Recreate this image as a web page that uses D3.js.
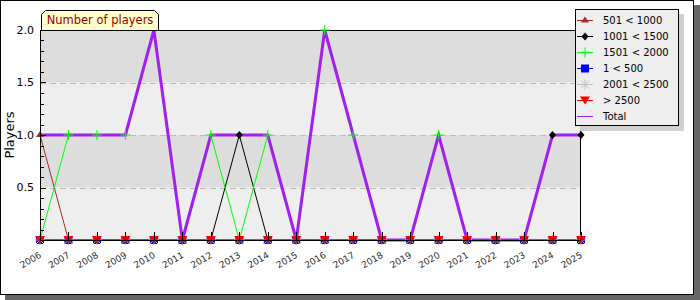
<!DOCTYPE html>
<html>
<head>
<meta charset="utf-8">
<script src="https://cdn.jsdelivr.net/npm/d3@7"></script>
<style>
    body { margin: 0; background: #ffffff; }
    svg { display: block; font-family: "DejaVu Sans", sans-serif; }
</style>
</head>
<body>
<svg id="chart" width="700" height="300"></svg>
<script>
// chart data
const years = ['2006', '2007', '2008', '2009', '2010', '2011', '2012', '2013', '2014', '2015',
               '2016', '2017', '2018', '2019', '2020', '2021', '2022', '2023', '2024', '2025'];
const s_501_1000 = [1, 0, 0, 0, 0, 0, 0, 0, 0, 0, 0, 0, 0, 0, 0, 0, 0, 0, 0, 0];
const s_1001_1500 = [0, 0, 0, 0, 0, 0, 0, 1, 0, 0, 0, 0, 0, 0, 0, 0, 0, 0, 1, 1];
const s_1501_2000 = [0, 1, 1, 1, null, 0, 1, 0, 1, 0, 2, 1, 0, 0, 1, 0, 0, 0, 0, 0];
const s_1_500 = [0, 0, 0, 0, 0, 0, 0, 0, 0, 0, 0, 0, 0, 0, 0, 0, 0, 0, 0, 0];
const s_2001_2500 = [0, 0, 0, 0, 0, 0, 0, 0, 0, 0, 0, 0, 0, 0, 0, 0, 0, 0, 0, 0];
const s_2500_up = [0, 0, 0, 0, 0, 0, 0, 0, 0, 0, 0, 0, 0, 0, 0, 0, 0, 0, 0, 0];
const total = [1, 1, 1, 1, 2, 0, 1, 1, 1, 0, 2, 1, 0, 0, 1, 0, 0, 0, 1, 1];
const y_ticks = [0.5, 1.0, 1.5, 2.0];
const legend_labels = ['501 < 1000', '1001 < 1500', '1501 < 2000', '1 < 500', '2001 < 2500', '> 2500', 'Total'];

// series styling, same order as the legend
const series = [
    {values: s_501_1000, color: '#a52a2a', symbol: 'triangle'},
    {values: s_1001_1500, color: '#000000', symbol: 'diamond'},
    {values: s_1501_2000, color: '#00ff00', symbol: 'plus'},
    {values: s_1_500, color: '#0000ff', symbol: 'square'},
    {values: s_2001_2500, color: '#c0c0c0', symbol: 'star'},
    {values: s_2500_up, color: '#ff0000', symbol: 'down'},
];

const svg = d3.select('#chart');
const plot_left = 40, plot_right = 580, plot_top = 30, plot_bottom = 240;

// frame with shadow
svg.append('rect').attr('x', 5).attr('y', 5).attr('width', 695).attr('height', 295).attr('fill', '#666666');
svg.append('rect').attr('x', 0.5).attr('y', 0.5).attr('width', 693).attr('height', 294)
    .attr('fill', '#ffffff').attr('stroke', '#000000');

const x = d3.scalePoint().domain(years).range([plot_left, 581]);
const y = d3.scaleLinear().domain([0, 2]).range([plot_bottom, plot_top]);

// background bands
const bands = [[0, 0.5, '#eeeeee'], [0.5, 1.0, '#dddddd'], [1.0, 1.5, '#eeeeee'], [1.5, 2.0, '#dddddd']];
svg.selectAll('.band').data(bands).enter().append('rect')
    .attr('x', plot_left).attr('width', plot_right - plot_left)
    .attr('y', (b) => y(b[1])).attr('height', (b) => y(b[0]) - y(b[1]))
    .attr('fill', (b) => b[2]);

// dashed grid lines
svg.selectAll('.grid').data([0.5, 1.0, 1.5]).enter().append('line')
    .attr('x1', plot_left).attr('x2', plot_right)
    .attr('y1', (v) => Math.round(y(v)) + 0.5).attr('y2', (v) => Math.round(y(v)) + 0.5)
    .attr('stroke', '#bbbbbb').attr('stroke-dasharray', '6,4');

// plot border top / right
svg.append('path')
    .attr('d', `M${plot_left},${plot_top + 0.5}H${plot_right + 0.5}V${plot_bottom}`)
    .attr('fill', 'none').attr('stroke', '#000000');

// lines
const line = d3.line()
    .defined((d) => d !== null)
    .x((d, i) => x(years[i]))
    .y((d) => y(d));

for (const s of series) {
    svg.append('path').datum(s.values)
        .attr('d', line)
        .attr('fill', 'none').attr('stroke', s.color).attr('stroke-width', 1);
}

svg.append('path').datum(total)
    .attr('d', line)
    .attr('fill', 'none').attr('stroke', '#a020f0').attr('stroke-width', 3);

// marker helper
function drawMarker(g, kind, color, cx, cy) {
    if (kind === 'triangle') {
        g.append('path').attr('d', `M${cx - 4},${cy + 2}L${cx},${cy - 4}L${cx + 4},${cy + 2}Z`).attr('fill', color);
    } else if (kind === 'down') {
        g.append('path').attr('d', `M${cx - 5},${cy - 4}L${cx + 5},${cy - 4}L${cx},${cy + 4}Z`).attr('fill', color);
    } else if (kind === 'diamond') {
        g.append('path').attr('d', `M${cx},${cy - 4}L${cx + 3.5},${cy}L${cx},${cy + 4}L${cx - 3.5},${cy}Z`).attr('fill', color);
    } else if (kind === 'square') {
        g.append('rect').attr('x', cx - 4).attr('y', cy - 4).attr('width', 8).attr('height', 8).attr('fill', color);
    } else if (kind === 'plus') {
        g.append('path').attr('d', `M${cx - 5},${cy}H${cx + 5}M${cx},${cy - 5}V${cy + 5}`).attr('stroke', color);
    } else if (kind === 'star') {
        g.append('path').attr('d', `M${cx - 5},${cy}H${cx + 5}M${cx},${cy - 5}V${cy + 5}M${cx - 4},${cy - 4}L${cx + 4},${cy + 4}M${cx - 4},${cy + 4}L${cx + 4},${cy - 4}`)
            .attr('stroke', color);
    }
}

// markers
const markers = svg.append('g');
for (const s of series) {
    s.values.forEach((v, i) => {
        if (v !== null) drawMarker(markers, s.symbol, s.color, x(years[i]), y(v));
    });
}

// y axis with inward ticks
const yAxis = svg.append('g');
yAxis.append('line').attr('x1', plot_left + 0.5).attr('x2', plot_left + 0.5).attr('y1', plot_top).attr('y2', plot_bottom)
    .attr('stroke', '#000000');
for (let v = 0.1; v < 2.0001; v += 0.1) {
    const yy = Math.round(y(v)) + 0.5;
    const major = Math.abs(v * 2 - Math.round(v * 2)) < 1e-6;
    yAxis.append('line').attr('x1', plot_left).attr('x2', plot_left + (major ? 6 : 4))
        .attr('y1', yy).attr('y2', yy).attr('stroke', '#000000');
}
yAxis.selectAll('text').data(y_ticks).enter().append('text')
    .attr('x', 34).attr('y', (v) => y(v)).attr('dy', '0.35em')
    .attr('text-anchor', 'end').attr('font-size', 11).attr('fill', '#000000')
    .text((v) => v.toFixed(1));

// x axis with inward ticks
const xAxis = svg.append('g');
xAxis.append('line').attr('x1', plot_left).attr('x2', 581).attr('y1', plot_bottom + 0.5).attr('y2', plot_bottom + 0.5)
    .attr('stroke', '#000000');
years.forEach((yr) => {
    const xx = Math.round(x(yr)) + 0.5;
    xAxis.append('line').attr('x1', xx).attr('x2', xx).attr('y1', plot_bottom - 8).attr('y2', plot_bottom)
        .attr('stroke', '#000000');
});
xAxis.selectAll('text').data(years).enter().append('text')
    .attr('transform', (yr) => `translate(${x(yr) + 2},${plot_bottom + 17}) rotate(-30)`)
    .attr('text-anchor', 'end').attr('font-size', 9).attr('fill', '#333333')
    .text((yr) => yr);

// y axis title
svg.append('text')
    .attr('transform', `translate(14,${(plot_top + plot_bottom) / 2}) rotate(-90)`)
    .attr('text-anchor', 'middle').attr('font-size', 13).attr('fill', '#000000')
    .text('Players');

// title tab
svg.append('path')
    .attr('d', `M41.5,30.5V14.5L45.5,10.5H154.5L158.5,14.5V30.5Z`)
    .attr('fill', '#ffffcc').attr('stroke', '#000000');
svg.append('text')
    .attr('x', 100).attr('y', 24).attr('text-anchor', 'middle')
    .attr('font-size', 11.5).attr('fill', '#990000')
    .text('Number of players');

// legend
const legend = svg.append('g');
legend.append('rect').attr('x', 580).attr('y', 14).attr('width', 104).attr('height', 117).attr('fill', '#d0d0d0');
legend.append('rect').attr('x', 575.5).attr('y', 9.5).attr('width', 103).attr('height', 116)
    .attr('fill', '#eeeeee').attr('stroke', '#000000');
legend_labels.forEach((label, i) => {
    const cy = 20 + i * 16;
    const color = i < series.length ? series[i].color : '#a020f0';
    legend.append('line').attr('x1', 577).attr('x2', 593).attr('y1', cy + 0.5).attr('y2', cy + 0.5)
        .attr('stroke', color);
    if (i < series.length) drawMarker(legend, series[i].symbol, color, 585, cy + 0.5);
    legend.append('text').attr('x', 603).attr('y', cy).attr('dy', '0.35em')
        .attr('font-size', 10).attr('fill', '#000000')
        .text(label);
});
</script>
</body>
</html>
